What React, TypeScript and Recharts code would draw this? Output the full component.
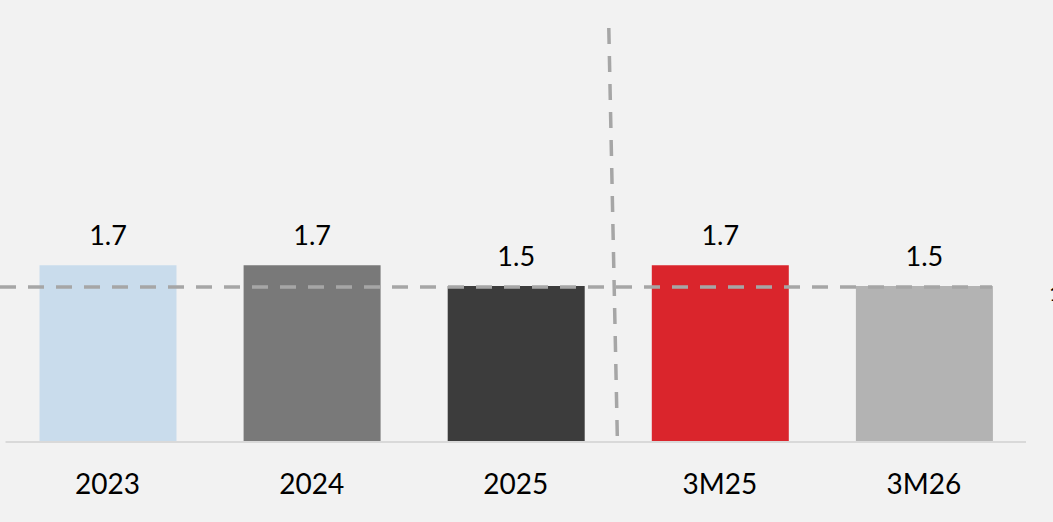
import { Bar, BarChart, Cell, LabelList, ReferenceLine, XAxis, YAxis } from "recharts";

const categories = ["2023", "2024", "2025", "3M25", "3M26"];
const values = [1.7, 1.7, 1.5, 1.7, 1.5];
const averageValue = 1.5;
const averageLabel = "1.5x";
const splitCategory = "3M25";

const COLORS = ["#c9dcec", "#797979", "#3c3c3c", "#da252c", "#b3b3b3"];
const FONT = "Lato, 'Open Sans', sans-serif";
const LINE = "#a6a6a6";

const data = categories.map((name, i) => ({ name, value: values[i] }));

const AverageLine = (props: any) => {
  const { x1, x2, y1 } = props;
  const right = Math.max(x1, x2);
  return (
    <g>
      <line
        x1={0}
        y1={y1 + 1}
        x2={right - 34}
        y2={y1 + 1}
        stroke={LINE}
        strokeWidth={3.5}
        strokeDasharray="16 12"
      />
      <text x={right + 23} y={y1 + 15} fontSize={22} fontFamily={FONT} fill="#000">
        {averageLabel}
      </text>
    </g>
  );
};

const SplitLine = (props: any) => {
  const { x1, y1, y2 } = props;
  const top = Math.min(y1, y2);
  const bottom = Math.max(y1, y2);
  return (
    <line
      x1={x1 - 9}
      y1={top + 2}
      x2={x1 - 0.5}
      y2={bottom - 6}
      stroke={LINE}
      strokeWidth={3.5}
      strokeDasharray="16 12"
    />
  );
};

const App = () => {
  return (
    <div style={{ position: "absolute", left: 0, top: 0, background: "#f2f2f2" }}>
      <BarChart
        width={1053}
        height={522}
        data={data}
        margin={{ top: 26, right: 27, bottom: 0, left: 5.5 }}
      >
        <XAxis
          dataKey="name"
          height={80}
          tickLine={false}
          tickSize={0}
          tickMargin={32}
          axisLine={{ stroke: "#d9d9d9", strokeWidth: 2 }}
          tick={{ fill: "#000", fontSize: 28, fontFamily: FONT }}
          interval={0}
        />
        <YAxis hide domain={[0, 4]} />
        <Bar dataKey="value" barSize={137} isAnimationActive={false}>
          {data.map((entry, index) => (
            <Cell key={`cell-${entry.name}`} fill={COLORS[index % COLORS.length]} />
          ))}
          <LabelList
            dataKey="value"
            position="top"
            offset={20}
            formatter={(v: any) => Number(v).toFixed(1)}
            style={{ fill: "#000", fontSize: 27, fontFamily: FONT }}
          />
        </Bar>
        <ReferenceLine y={averageValue} ifOverflow="visible" shape={AverageLine} />
        <ReferenceLine
          x={splitCategory}
          position="start"
          ifOverflow="visible"
          shape={SplitLine}
        />
      </BarChart>
    </div>
  );
};

export default App;
